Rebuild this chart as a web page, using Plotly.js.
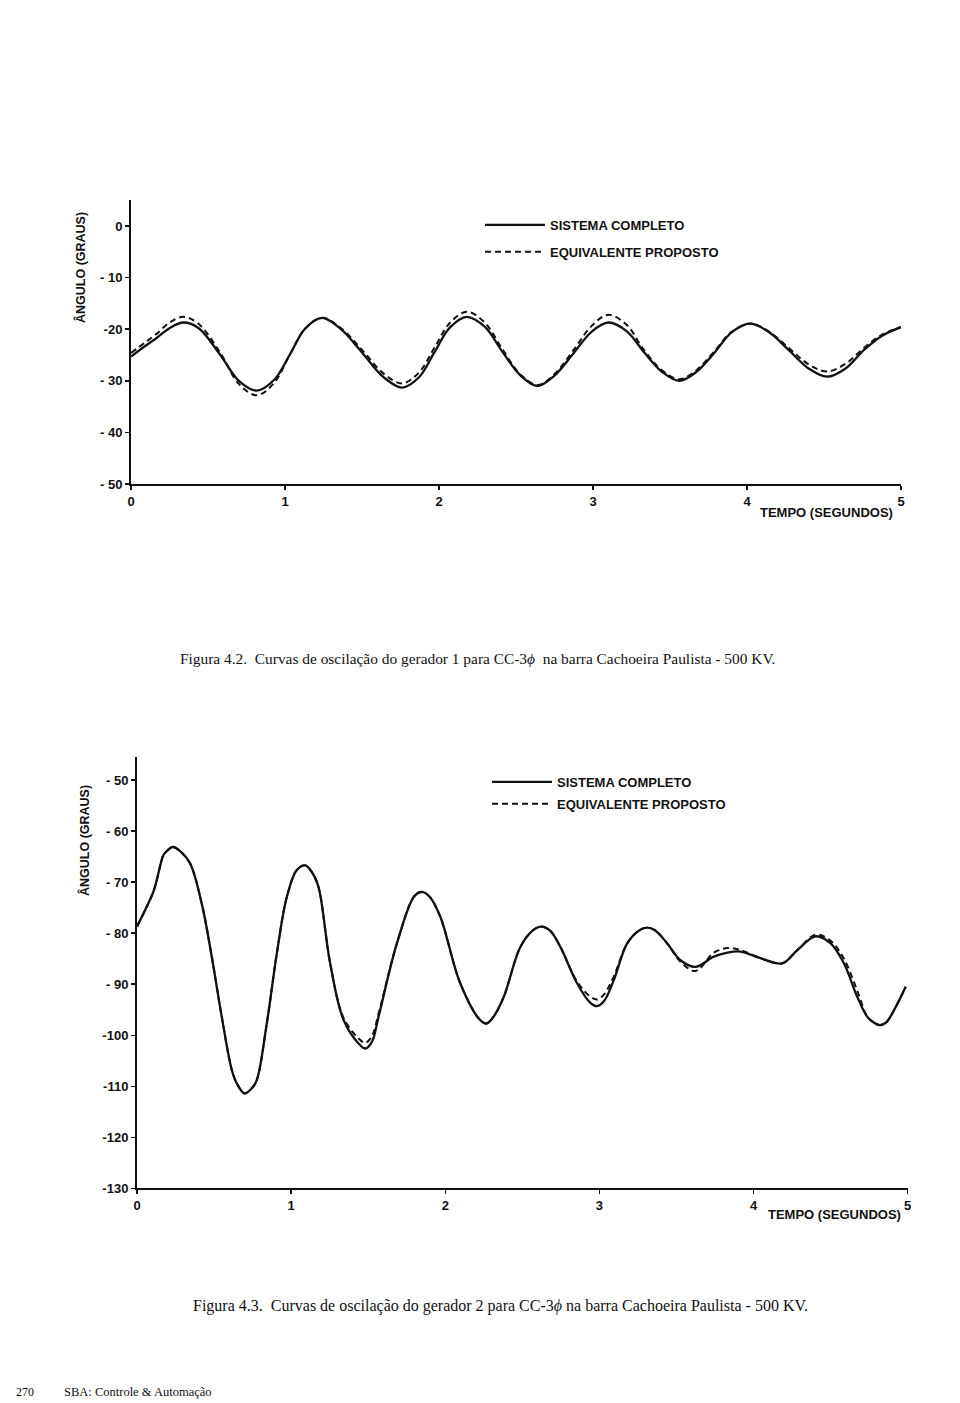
<!DOCTYPE html>
<html>
<head>
<meta charset="utf-8">
<script src="https://cdn.plot.ly/plotly-3.0.1.min.js"></script>
<style>html,body{margin:0;padding:0;background:#fff;}#chart{width:960px;height:1403px;}</style>
</head>
<body>
<div id="chart"></div>
<script>
// ---------- Figura 4.2 (gerador 1) ----------
const tempo1 = [0, 0.09, 0.17, 0.25, 0.34, 0.44, 0.58, 0.70, 0.817, 0.93, 1.03, 1.13, 1.24, 1.36, 1.50, 1.64, 1.76, 1.87, 1.97, 2.07, 2.18, 2.30, 2.41, 2.53, 2.64, 2.75, 2.87, 2.99, 3.10, 3.22, 3.33, 3.45, 3.56, 3.67, 3.79, 3.90, 4.02, 4.14, 4.27, 4.40, 4.52, 4.64, 4.76, 4.88, 5.0];
const completo1 = [-25.3, -23.3, -21.6, -19.8, -18.7, -19.8, -25.0, -30.0, -31.9, -29.8, -25.0, -19.9, -17.8, -19.9, -24.5, -29.3, -31.3, -29.3, -24.5, -19.7, -17.6, -19.6, -24.3, -29.0, -31.0, -29.0, -24.8, -20.5, -18.7, -20.4, -24.4, -28.3, -30.0, -28.3, -24.5, -20.6, -18.9, -20.5, -24.0, -27.6, -29.2, -27.6, -24.0, -21.2, -19.6];
const equivalente1 = [-24.6, -22.6, -20.8, -18.7, -17.6, -19.0, -24.6, -30.6, -32.8, -30.4, -25.0, -19.9, -17.8, -19.7, -24.0, -28.6, -30.5, -28.4, -23.6, -18.8, -16.6, -18.8, -23.8, -28.8, -30.8, -28.7, -24.2, -19.4, -17.2, -19.2, -24.0, -28.0, -29.7, -28.0, -24.2, -20.5, -18.9, -20.4, -23.6, -26.8, -28.2, -26.7, -23.6, -21.0, -19.6];

// ---------- Figura 4.3 (gerador 2) ----------
const tempo2 = [0, 0.052, 0.106, 0.128, 0.171, 0.19, 0.232, 0.28, 0.344, 0.42, 0.485, 0.55, 0.615, 0.647, 0.697, 0.745, 0.777, 0.842, 0.907, 0.972, 1.037, 1.091, 1.134, 1.177, 1.253, 1.34, 1.437, 1.48, 1.524, 1.567, 1.686, 1.80, 1.849, 1.90, 1.968, 2.097, 2.22, 2.266, 2.31, 2.379, 2.487, 2.57, 2.623, 2.68, 2.747, 2.855, 2.94, 2.985, 3.03, 3.093, 3.18, 3.26, 3.31, 3.36, 3.44, 3.526, 3.623, 3.742, 3.83, 3.916, 4.045, 4.186, 4.284, 4.403, 4.5, 4.586, 4.673, 4.738, 4.78, 4.818, 4.86, 4.911, 4.987];
const completo2 = [-78.7, -75.5, -71.9, -69.6, -64.7, -64.0, -63.1, -63.9, -66.3, -74.2, -84.6, -96.4, -106.8, -109.4, -111.4, -110.4, -108.8, -97.7, -84.0, -72.9, -67.6, -66.7, -68.0, -70.9, -85.9, -97.0, -101.6, -102.6, -101.3, -96.4, -82.0, -72.7, -71.9, -72.9, -76.8, -89.8, -96.8, -97.7, -96.5, -92.5, -82.7, -79.4, -78.7, -79.5, -82.7, -89.8, -93.6, -94.3, -93.3, -89.2, -82.0, -79.4, -78.9, -79.4, -82.0, -85.3, -86.6, -84.6, -83.8, -83.6, -84.9, -85.9, -83.3, -80.6, -82.0, -85.9, -92.5, -96.4, -97.5, -98.0, -97.5, -95.1, -90.5];
const equivalente2 = [-78.7, -75.5, -71.9, -69.6, -64.7, -64.0, -63.1, -63.9, -66.3, -74.2, -84.6, -96.4, -106.8, -109.4, -111.4, -110.4, -108.8, -97.7, -84.0, -72.9, -67.6, -66.7, -68.0, -70.9, -85.9, -96.6, -100.6, -101.5, -100.2, -95.8, -82.0, -72.7, -71.9, -72.9, -76.8, -89.8, -96.8, -97.7, -96.5, -92.5, -82.7, -79.4, -78.7, -79.5, -82.7, -89.5, -92.4, -93.0, -92.0, -88.5, -82.0, -79.4, -78.9, -79.4, -82.0, -85.6, -87.4, -83.8, -82.9, -83.3, -84.9, -85.9, -83.3, -80.3, -81.5, -85.0, -91.3, -96.4, -97.5, -98.0, -97.5, -95.1, -90.5];

// ---------- Ticks and labels ----------
const xTicks = [0, 1, 2, 3, 4, 5];
const xTickText = ['0', '1', '2', '3', '4', '5'];
const yTicks1 = [0, -10, -20, -30, -40, -50];
const yTickText1 = ['0', '- 10', '-20', '- 30', '- 40', '- 50'];
const yTicks2 = [-50, -60, -70, -80, -90, -100, -110, -120, -130];
const yTickText2 = ['- 50', '- 60', '- 70', '- 80', '- 90', '-100', '-110', '-120', '-130'];
const seriesNames = ['SISTEMA COMPLETO', 'EQUIVALENTE PROPOSTO'];
const caption1 = 'Figura 4.2.  Curvas de oscilação do gerador 1 para CC-3<i>ϕ</i>  na barra Cachoeira Paulista - 500 KV.';
const caption2 = 'Figura 4.3.  Curvas de oscilação do gerador 2 para CC-3<i>ϕ</i> na barra Cachoeira Paulista - 500 KV.';
const yTitle = 'ÂNGULO (GRAUS)';
const xTitle = 'TEMPO (SEGUNDOS)';

const W = 960, H = 1403;
const px = v => v / W;
const py = v => 1 - v / H;

const SANS = 'Liberation Sans, Arial, sans-serif';
const SERIF = 'Liberation Serif, Times New Roman, serif';
const tickFont = {family: SANS, size: 13, color: '#111', weight: 'bold'};
const solidLine = {color: '#111', width: 2.3, shape: 'spline', smoothing: 1};
const dashLine = {color: '#111', width: 2.0, shape: 'spline', smoothing: 1, dash: '6px,4px'};

const traces = [
  {x: tempo1, y: completo1, type: 'scatter', mode: 'lines', name: seriesNames[0], line: solidLine, xaxis: 'x', yaxis: 'y', legend: 'legend', legendgroup: 'a'},
  {x: tempo1, y: equivalente1, type: 'scatter', mode: 'lines', name: seriesNames[1], line: dashLine, xaxis: 'x', yaxis: 'y', legend: 'legend', legendgroup: 'b'},
  {x: tempo2, y: completo2, type: 'scatter', mode: 'lines', name: seriesNames[0], line: solidLine, xaxis: 'x2', yaxis: 'y2', legend: 'legend2', legendgroup: 'c'},
  {x: tempo2, y: equivalente2, type: 'scatter', mode: 'lines', name: seriesNames[1], line: dashLine, xaxis: 'x2', yaxis: 'y2', legend: 'legend2', legendgroup: 'd'}
];

function xAxis(domain, anchor) {
  return {domain: domain, anchor: anchor, range: [0, 5], tickvals: xTicks, ticktext: xTickText,
    showline: true, linecolor: '#111', linewidth: 2, ticks: 'outside', ticklen: 4, tickwidth: 1.5, tickcolor: '#111',
    showgrid: false, zeroline: false, tickfont: tickFont, fixedrange: true};
}
function yAxis(domain, anchor, range, vals, text) {
  return {domain: domain, anchor: anchor, range: range, tickvals: vals, ticktext: text,
    showline: true, linecolor: '#111', linewidth: 2, ticks: 'outside', ticklen: 4, tickwidth: 1.5, tickcolor: '#111',
    showgrid: false, zeroline: false, tickfont: tickFont, fixedrange: true};
}

const legendFont = {family: SANS, size: 13, color: '#111', weight: 'bold'};
function note(text, x, y, font, extra) {
  return Object.assign({text: text, xref: 'paper', yref: 'paper', x: px(x), y: py(y), xanchor: 'center', yanchor: 'middle', showarrow: false, font: font}, extra || {});
}

const layout = {
  width: W, height: H,
  margin: {l: 0, r: 0, t: 0, b: 0},
  paper_bgcolor: '#fff', plot_bgcolor: 'rgba(0,0,0,0)',
  showlegend: true,
  xaxis: xAxis([px(131), px(901)], 'y'),
  yaxis: yAxis([py(484), py(200)], 'x', [-50, 5.05], yTicks1, yTickText1),
  xaxis2: xAxis([px(137), px(907.7)], 'y2'),
  yaxis2: yAxis([py(1188.3), py(756.7)], 'x2', [-130, -45.4], yTicks2, yTickText2),
  legend: {x: px(480), y: py(210), xanchor: 'left', yanchor: 'top', bgcolor: 'rgba(0,0,0,0)', font: legendFont, itemwidth: 60, tracegroupgap: 7, traceorder: 'grouped'},
  legend2: {x: px(487), y: py(767), xanchor: 'left', yanchor: 'top', bgcolor: 'rgba(0,0,0,0)', font: legendFont, itemwidth: 60, tracegroupgap: 2, traceorder: 'grouped'},
  annotations: [
    note(yTitle, 80, 268, {family: SANS, size: 12.5, color: '#111', weight: 'bold'}, {textangle: -90}),
    note(yTitle, 84, 841, {family: SANS, size: 12.5, color: '#111', weight: 'bold'}, {textangle: -90}),
    note(xTitle, 826, 512, legendFont),
    note(xTitle, 834, 1214, legendFont),
    note(caption1, 477, 658, {family: SERIF, size: 15.4, color: '#111'}),
    note(caption2, 500, 1306, {family: SERIF, size: 16, color: '#111'}),
    note('270', 25, 1392, {family: SERIF, size: 12, color: '#111'}),
    note('SBA: Controle &amp; Automação', 62, 1392, {family: SERIF, size: 12.5, color: '#111'}, {xanchor: 'left'})
  ]
};

Plotly.newPlot('chart', traces, layout, {displayModeBar: false, staticPlot: true});
</script>
</body>
</html>
